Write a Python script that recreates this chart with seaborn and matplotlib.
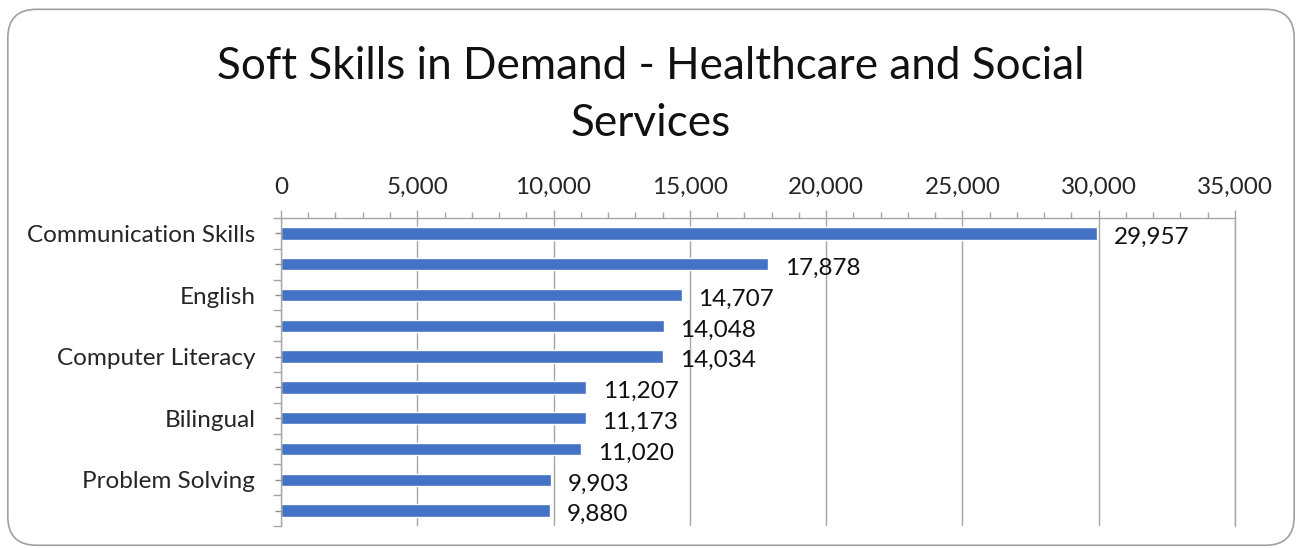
import numpy as np
import pandas as pd
import matplotlib.pyplot as plt
import seaborn as sns
from matplotlib.patches import FancyBboxPatch
from matplotlib.ticker import MultipleLocator, FuncFormatter

skills = ['Communication Skills', 'Skill 2', 'English', 'Skill 4',
          'Computer Literacy', 'Skill 6', 'Bilingual', 'Skill 8',
          'Problem Solving', 'Skill 10']
shown_labels = ['Communication Skills', '', 'English', '',
                'Computer Literacy', '', 'Bilingual', '',
                'Problem Solving', '']
postings = [29957, 17878, 14707, 14048, 14034, 11207, 11173, 11020, 9903, 9880]

df = pd.DataFrame({'skill': skills, 'postings': postings})

sns.set_style('white')
plt.rcParams['font.family'] = ['Lato', 'DejaVu Sans']

fig = plt.figure(figsize=(13.02, 5.48), dpi=100)
ax = fig.add_axes([0.2158, 0.0401, 0.7327, 0.5621])

sns.barplot(data=df, y='skill', x='postings', order=skills, orient='h',
            color='#4472C4', saturation=1, width=0.4, ax=ax)

grid_c = '#A6A6A6'
ax.set_xlim(0, 35000)
ax.set_ylim(9.5, -0.5)
ax.xaxis.tick_top()
ax.xaxis.set_major_locator(MultipleLocator(5000))
ax.xaxis.set_minor_locator(MultipleLocator(1000))
ax.xaxis.set_major_formatter(FuncFormatter(lambda v, p: f'{int(v):,}'))
ax.tick_params(axis='x', which='major', length=5.5, width=1, color=grid_c,
               labelsize=17.5, pad=9)
ax.tick_params(axis='x', which='minor', length=4.3, width=1, color=grid_c, top=True)
ax.grid(axis='x', color=grid_c, linewidth=1)
ax.set_axisbelow(True)

ax.set_yticks(np.arange(len(skills)))
ax.set_yticklabels(shown_labels)
ax.set_yticks(np.arange(len(skills) + 1) - 0.5, minor=True)
ax.tick_params(axis='y', which='major', length=9, direction='inout', width=1,
               color='#8C8C8C', labelsize=17.5, pad=14, left=True)
ax.tick_params(axis='y', which='minor', length=6, width=1, color=grid_c, left=True)

ax.spines['bottom'].set_visible(False)
for s in ['left', 'top', 'right']:
    ax.spines[s].set_color(grid_c)
    ax.spines[s].set_linewidth(1)

ax.set_xlabel('')
ax.set_ylabel('')

for i, v in enumerate(postings):
    ax.annotate(f'{v:,}', (v, i), xytext=(12, -3), textcoords='offset points',
                va='center', ha='left', fontsize=17.5, color='#111111')

fig.text(0.5, 0.827, 'Soft Skills in Demand - Healthcare and Social\nServices',
         ha='center', va='center', fontsize=31.7, linespacing=1.5, color='#111111')

border = FancyBboxPatch((0.006, 0.005), 0.988, 0.978, transform=fig.transFigure,
                        boxstyle='round,pad=0,rounding_size=0.022',
                        mutation_aspect=1302 / 548,
                        facecolor='none', edgecolor='#A0A0A0', linewidth=1.2)
fig.patches.append(border)

fig.savefig('out.png', dpi=100)
